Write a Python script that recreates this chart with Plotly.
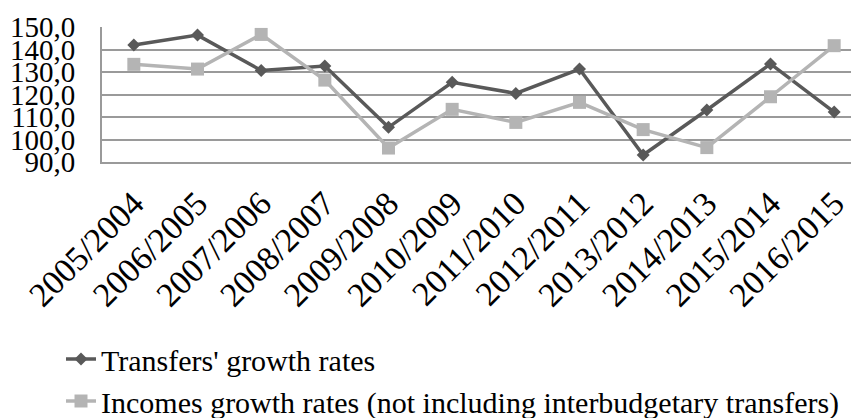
import plotly.graph_objects as go

categories = ["2005/2004", "2006/2005", "2007/2006", "2008/2007", "2009/2008", "2010/2009",
              "2011/2010", "2012/2011", "2013/2012", "2014/2013", "2015/2014", "2016/2015"]
transfers = [142.0, 146.4, 130.7, 132.7, 105.4, 125.4, 120.5, 131.3, 93.1, 113.1, 133.6, 112.2]
incomes = [133.4, 131.3, 146.7, 126.4, 96.2, 113.4, 107.6, 116.5, 104.4, 96.4, 119.0, 141.7]
y_ticks = [90, 100, 110, 120, 130, 140, 150]

FONT = "Liberation Serif"
W, H = 851, 410

fig = go.Figure()
fig.add_trace(go.Scatter(
    x=categories, y=transfers, mode="lines+markers", name="Transfers' growth rates",
    line=dict(color="#595959", width=3.5),
    marker=dict(symbol="diamond", size=10, color="#595959"),
))
fig.add_trace(go.Scatter(
    x=categories, y=incomes, mode="lines+markers",
    name="Incomes growth rates (not including interbudgetary transfers)",
    line=dict(color="#b4b4b4", width=3.5),
    marker=dict(symbol="square", size=13, color="#b4b4b4"),
))

fig.update_layout(
    width=W, height=H,
    margin=dict(l=94, r=0, t=19, b=256, autoexpand=False),
    paper_bgcolor="white", plot_bgcolor="white",
    separators=", ",
    font=dict(family=FONT, color="black"),
    showlegend=True,
    legend=dict(
        orientation="v", xref="container", yref="container",
        x=53 / W, y=1 - 325 / H, xanchor="left", yanchor="top",
        font=dict(family=FONT, size=30, color="black"),
        bgcolor="rgba(0,0,0,0)", tracegroupgap=0, itemwidth=30,
    ),
    xaxis=dict(
        type="category", tickangle=-45, tickfont=dict(family=FONT, size=34),
        showgrid=False, showline=True, linecolor="#9a9a9a", linewidth=1.7,
        ticks="", ticklabelstandoff=6, range=[-0.5, 11.39], automargin=False,
    ),
    yaxis=dict(
        range=[90, 150], tickvals=y_ticks, tickformat=".1f",
        tickfont=dict(family=FONT, size=29),
        showgrid=True, gridcolor="#9a9a9a", gridwidth=1.7,
        showline=True, linecolor="#9a9a9a", linewidth=1.7,
        zeroline=False, ticks="", ticklabelstandoff=19, automargin=False,
    ),
)

fig.write_html("out.html")
